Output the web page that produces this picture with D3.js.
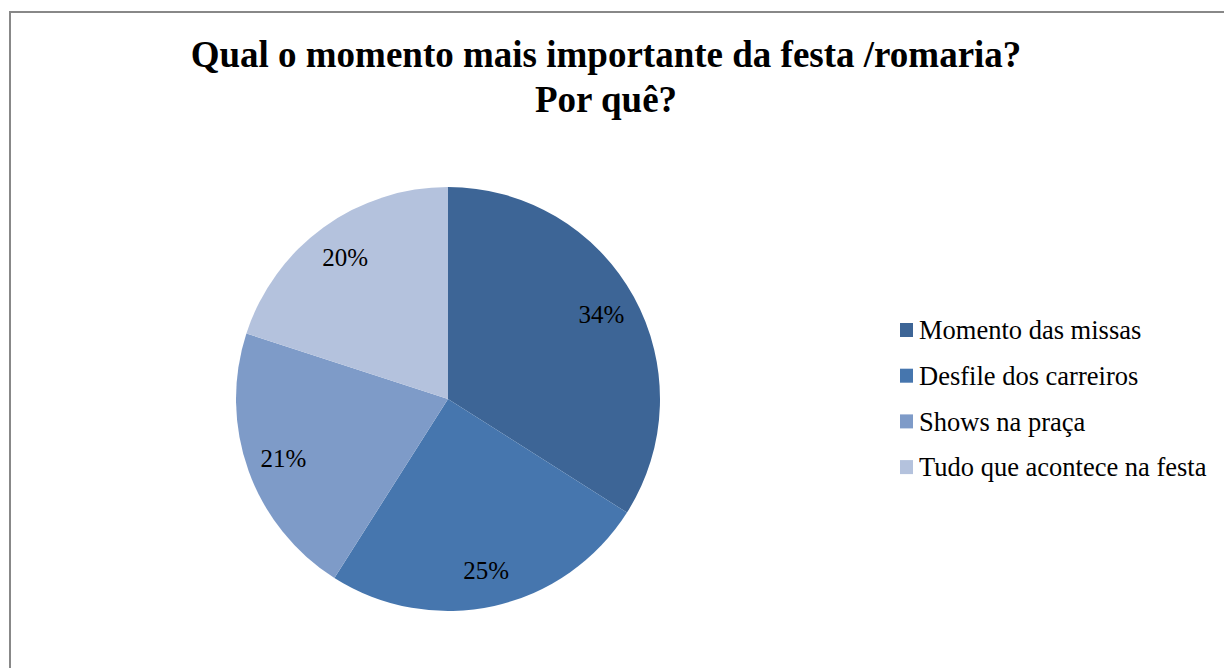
<!DOCTYPE html>
<html><head><meta charset="utf-8">
<script src="https://cdn.jsdelivr.net/npm/d3@7"></script>
<style>body{margin:0;background:#fff}svg{display:block}</style>
</head><body>
<svg id="chart" width="1224" height="668"></svg>
<script>
const categories = ["Momento das missas","Desfile dos carreiros","Shows na praça","Tudo que acontece na festa"];
const values = [34, 25, 21, 20];
const colors = ["#3D6596","#4676AE","#7E9BC8","#B4C2DD"];
const titleLines = ["Qual o momento mais importante da festa /romaria?","Por quê?"];

const svg = d3.select("#chart");
svg.append("rect").attr("x",10).attr("y",12).attr("width",1230).attr("height",680)
  .attr("fill","#fff").attr("stroke","#888").attr("stroke-width",2);

const font = "'Liberation Serif','Times New Roman',serif";
svg.append("g").selectAll("text").data(titleLines).join("text")
  .attr("x",606).attr("y",(d,i)=>67+i*45).attr("text-anchor","middle")
  .attr("font-family",font).attr("font-weight","bold").attr("font-size",37)
  .attr("fill","#000").text(d=>d);

const cx=448, cy=399, R=212;
const data = categories.map((c,i)=>({c, v:values[i], col:colors[i]}));
const pie = d3.pie().value(d=>d.v).sort(null);
const arc = d3.arc().innerRadius(0).outerRadius(R);
const labelArc = d3.arc().innerRadius(175).outerRadius(175);
const g = svg.append("g").attr("transform",`translate(${cx},${cy})`);
const arcs = pie(data);
g.selectAll("path").data(arcs).join("path").attr("d",arc).attr("fill",d=>d.data.col);
const total = d3.sum(values);
g.selectAll("text").data(arcs).join("text")
  .attr("transform",d=>`translate(${labelArc.centroid(d)})`)
  .attr("text-anchor","middle").attr("dy","0.35em")
  .attr("font-family",font).attr("font-size",25).attr("fill","#000")
  .text(d=>Math.round(d.data.v/total*100)+"%");

const leg = svg.append("g").attr("transform","translate(900,330)");
const rows = leg.selectAll("g").data(data).join("g").attr("transform",(d,i)=>`translate(0,${i*45.7})`);
rows.append("rect").attr("x",0).attr("y",-7).attr("width",13).attr("height",14).attr("fill",d=>d.col);
rows.append("text").attr("x",19).attr("y",0).attr("dy","0.35em")
  .attr("font-family",font).attr("font-size",26.5).attr("fill","#000").text(d=>d.c);
</script>
</body></html>
